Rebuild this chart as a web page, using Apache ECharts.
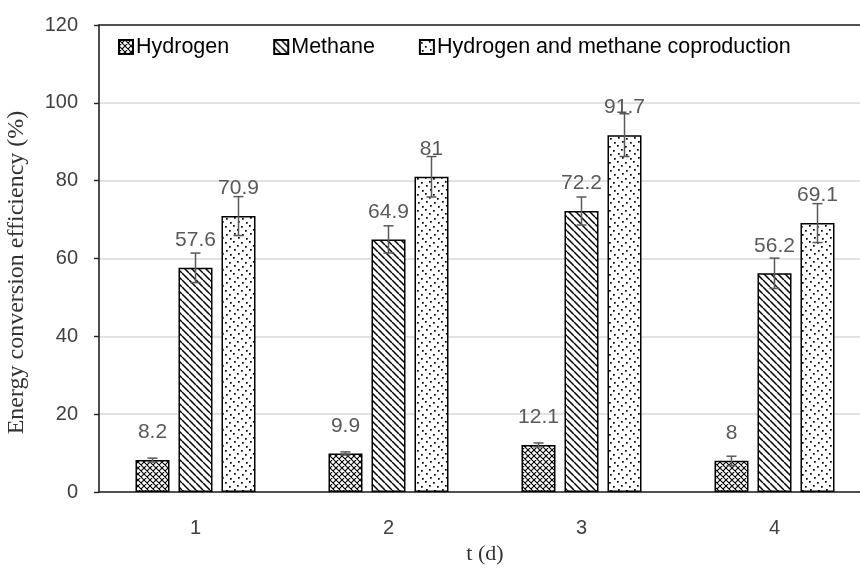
<!DOCTYPE html>
<html><head><meta charset="utf-8">
<script src="https://cdn.jsdelivr.net/npm/echarts@6/dist/echarts.min.js"></script>
<style>html,body{margin:0;background:#fff}#c{width:860px;height:572px}</style>
</head><body><div id="c"></div>
<script>
// Energy conversion efficiency per stage, with standard deviations
const days = ['1', '2', '3', '4'];
const hydrogen = [8.2, 9.9, 12.1, 8];
const methane = [57.6, 64.9, 72.2, 56.2];
const coproduction = [70.9, 81, 91.7, 69.1];
const hydrogenErr = [0.5, 0.4, 0.5, 1.2];
const methaneErr = [3.8, 3.5, 3.6, 3.9];
const coproductionErr = [5, 5.2, 5.5, 5];
const yTicks = [0, 20, 40, 60, 80, 100, 120];

const BAR_W = 34, BAR_GAP = 9;
const SANS = '"Liberation Sans", Arial, sans-serif';
const SERIF = '"Liberation Serif", "DejaVu Serif", serif';

function tile(w, h, draw) {
  const c = document.createElement('canvas');
  c.width = w; c.height = h;
  const g = c.getContext('2d');
  g.fillStyle = '#fff'; g.fillRect(0, 0, w, h);
  g.strokeStyle = '#000'; g.fillStyle = '#000';
  draw(g, w, h);
  return c;
}
// diamond cross-hatch
const crossTile = tile(6, 6, (g, w, h) => {
  g.lineWidth = 1.1;
  g.beginPath();
  for (let k = -1; k <= 1; k++) {
    g.moveTo(k * w, 0); g.lineTo(k * w + w, h);
    g.moveTo(k * w + w, 0); g.lineTo(k * w, h);
  }
  g.stroke();
});
// downward diagonal stripes
const stripeTile = tile(7, 7, (g, w, h) => {
  g.lineWidth = 1.5;
  g.beginPath();
  for (let k = -1; k <= 1; k++) { g.moveTo(k * w, 0); g.lineTo(k * w + w, h); }
  g.stroke();
});
// sparse dots
const dotTile = tile(16, 16, (g) => {
  [[1, 2], [9, 1], [5, 6], [13, 5], [2, 10], [10, 9], [6, 14], [14, 13]]
    .forEach(([x, y]) => g.fillRect(x, y, 1.7, 1.7));
});

function pattern(c) { return { image: c, repeat: 'repeat' }; }

const barBase = {
  type: 'bar', barWidth: BAR_W, barGap: (BAR_GAP / BAR_W * 100) + '%',
  label: { show: true, position: 'top', distance: 17, color: '#595959', fontSize: 21, fontFamily: SANS },
  z: 2
};
function barSeries(name, data, tileCanvas) {
  return Object.assign({}, barBase, {
    name: name, data: data,
    itemStyle: { color: pattern(tileCanvas), borderColor: '#000', borderWidth: 1.5 }
  });
}

function errorSeries(values, errs, slot) {
  return {
    type: 'custom', z: 5, silent: true,
    data: values.map((v, i) => [i, v, errs[i]]),
    renderItem: (params, api) => {
      const i = api.value(0), v = api.value(1), e = api.value(2);
      const off = (slot - 1) * (BAR_W + BAR_GAP);
      const top = api.coord([i, v + e]);
      const bot = api.coord([i, v - e]);
      const x = top[0] + off, cap = 5;
      const st = { stroke: '#595959', lineWidth: 1.5 };
      return { type: 'group', children: [
        { type: 'line', shape: { x1: x, y1: top[1], x2: x, y2: bot[1] }, style: st },
        { type: 'line', shape: { x1: x - cap, y1: top[1], x2: x + cap, y2: top[1] }, style: st },
        { type: 'line', shape: { x1: x - cap, y1: bot[1], x2: x + cap, y2: bot[1] }, style: st }
      ]};
    }
  };
}

const chart = echarts.init(document.getElementById('c'), null, { renderer: 'canvas' });
chart.setOption({
  animation: false,
  backgroundColor: '#fff',
  grid: { left: 99, top: 25, width: 772, height: 467, outerBoundsMode: 'none', containLabel: false },
  legend: {
    top: 31, left: 113, itemWidth: 14, itemHeight: 14, itemGap: 44, icon: 'rect',
    textStyle: { fontSize: 21.5, color: '#000', fontFamily: SANS, padding: [0, 0, 0, -2] },
    data: ['Hydrogen', 'Methane', 'Hydrogen and methane coproduction']
  },
  xAxis: [{
    type: 'category', data: days, position: 'bottom',
    axisLine: { lineStyle: { color: '#222', width: 1.6 } },
    axisTick: { show: false },
    axisLabel: { color: '#404040', fontSize: 20, fontFamily: SANS, margin: 26 },
    name: 't (d)', nameLocation: 'middle', nameGap: 50,
    nameTextStyle: { fontFamily: SERIF, fontSize: 22, color: '#333' }
  }, {
    type: 'category', data: days, position: 'top',
    axisLine: { lineStyle: { color: '#222', width: 1.6 } },
    axisTick: { show: false }, axisLabel: { show: false }
  }],
  yAxis: {
    type: 'value', min: yTicks[0], max: yTicks[yTicks.length - 1], interval: yTicks[1] - yTicks[0],
    axisLine: { show: true, lineStyle: { color: '#222', width: 1.6 } },
    axisTick: { show: true, inside: false, length: 5, lineStyle: { color: '#222', width: 1.4 } },
    axisLabel: { color: '#404040', fontSize: 20, fontFamily: SANS, margin: 21 },
    splitLine: { lineStyle: { color: '#d9d9d9', width: 1.5 } },
    name: 'Energy conversion efficiency (%)', nameLocation: 'middle', nameGap: 70,
    nameTextStyle: { fontFamily: SERIF, fontSize: 24, color: '#333', padding: [0, 28, 0, 0] }
  },
  series: [
    barSeries('Hydrogen', hydrogen, crossTile),
    barSeries('Methane', methane, stripeTile),
    barSeries('Hydrogen and methane coproduction', coproduction, dotTile),
    errorSeries(hydrogen, hydrogenErr, 0),
    errorSeries(methane, methaneErr, 1),
    errorSeries(coproduction, coproductionErr, 2)
  ]
});
</script></body></html>
